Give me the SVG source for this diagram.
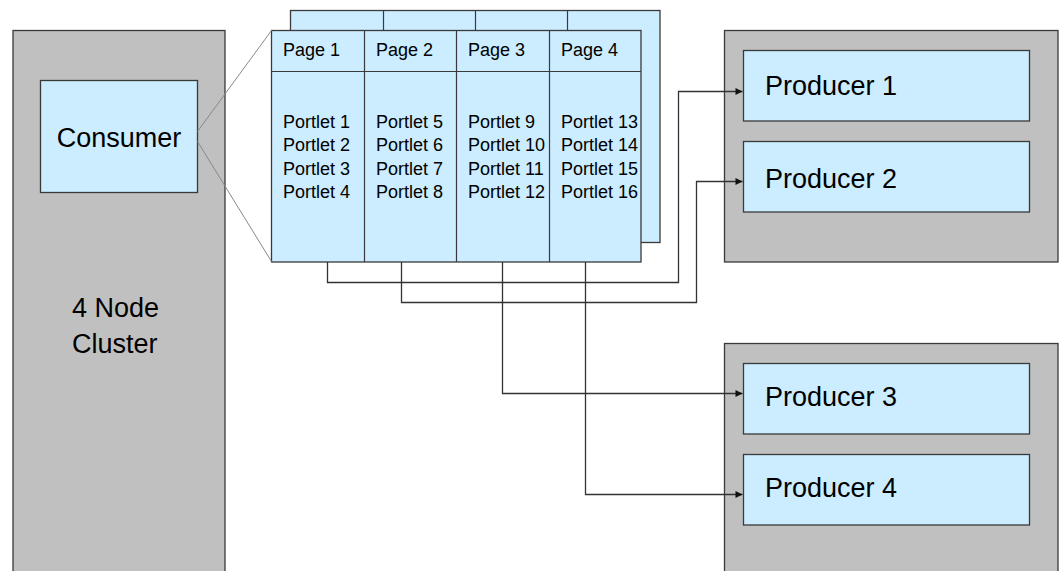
<svg xmlns="http://www.w3.org/2000/svg" width="1059" height="571" viewBox="0 0 1059 571">
  <defs>
    <marker id="arrow" viewBox="0 0 10 10" refX="10" refY="5" markerWidth="9" markerHeight="7" markerUnits="userSpaceOnUse" orient="auto">
      <path d="M0,0 L10,5 L0,10 z" fill="#111"/>
    </marker>
    <style>
      .host { fill: #c0c0c0; stroke: #3a3a3a; stroke-width: 1.3; }
      .box { fill: #ccecff; stroke: #3a3a3a; stroke-width: 1.3; }
      .div { stroke: #3a3a3a; stroke-width: 1.2; fill: none; }
      .big { font-family: "Liberation Sans", Arial, sans-serif; font-size: 27px; fill: #000; }
      .small { font-family: "Liberation Sans", Arial, sans-serif; font-size: 18px; fill: #000; }
      .link { fill: none; stroke: #333; stroke-width: 1.3; }
      .zoom { fill: none; stroke: #888; stroke-width: 1; }
    </style>
  </defs>
  <rect width="1059" height="571" fill="#ffffff"/>

  <!-- consumer cluster -->
  <g id="cluster">
    <rect class="host" x="13" y="30.5" width="212" height="560"/>
    <text class="big" x="72" y="317">4 Node</text>
    <text class="big" x="72" y="353">Cluster</text>
  </g>
  <g id="consumer">
    <rect class="box" x="40.5" y="80.5" width="157" height="112"/>
    <text class="big" x="119" y="147" text-anchor="middle">Consumer</text>
  </g>

  <!-- page stack: back sheet, then front sheet -->
  <g id="pages-back">
    <rect class="box" x="290.5" y="10.5" width="369.5" height="232"/>
    <path class="div" d="M383.5,10.5 V30.5 M475.5,10.5 V30.5 M567.5,10.5 V30.5"/>
  </g>
  <g id="pages">
    <rect class="box" x="271.5" y="30.5" width="369.5" height="231.5"/>
    <path class="div" d="M271.5,71.5 H641 M364.5,30.5 V262 M456.5,30.5 V262 M549.5,30.5 V262"/>
    <g class="small">
      <text x="283" y="56">Page 1</text>
      <text x="376" y="56">Page 2</text>
      <text x="468" y="56">Page 3</text>
      <text x="561" y="56">Page 4</text>
      <text x="283" y="127.5">Portlet 1</text>
      <text x="283" y="151">Portlet 2</text>
      <text x="283" y="174.5">Portlet 3</text>
      <text x="283" y="198">Portlet 4</text>
      <text x="376" y="127.5">Portlet 5</text>
      <text x="376" y="151">Portlet 6</text>
      <text x="376" y="174.5">Portlet 7</text>
      <text x="376" y="198">Portlet 8</text>
      <text x="468" y="127.5">Portlet 9</text>
      <text x="468" y="151">Portlet 10</text>
      <text x="468" y="174.5">Portlet 11</text>
      <text x="468" y="198">Portlet 12</text>
      <text x="561" y="127.5">Portlet 13</text>
      <text x="561" y="151">Portlet 14</text>
      <text x="561" y="174.5">Portlet 15</text>
      <text x="561" y="198">Portlet 16</text>
    </g>
  </g>

  <!-- producer hosts -->
  <g id="host-a">
    <rect class="host" x="724.5" y="30.5" width="333.5" height="231.5"/>
  </g>
  <g id="producer-1">
    <rect class="box" x="743.5" y="50.5" width="286" height="70.5"/>
    <text class="big" x="765" y="95">Producer 1</text>
  </g>
  <g id="producer-2">
    <rect class="box" x="743.5" y="141.5" width="286" height="70.5"/>
    <text class="big" x="765" y="188">Producer 2</text>
  </g>
  <g id="host-b">
    <rect class="host" x="724.5" y="343.5" width="333.5" height="260"/>
  </g>
  <g id="producer-3">
    <rect class="box" x="743.5" y="363.5" width="286" height="70.5"/>
    <text class="big" x="765" y="406">Producer 3</text>
  </g>
  <g id="producer-4">
    <rect class="box" x="743.5" y="454.5" width="286" height="70.5"/>
    <text class="big" x="765" y="497">Producer 4</text>
  </g>

  <!-- connectors -->
  <g id="connectors">
    <path class="zoom" d="M197.5,131.5 L271.5,30.5 M197.5,141.5 L271.5,261.5"/>
    <path class="link" d="M327.5,262 V282.5 H678.5 V91.5 H742.5" marker-end="url(#arrow)"/>
    <path class="link" d="M401.5,262 V302.5 H696.5 V181.5 H742.5" marker-end="url(#arrow)"/>
    <path class="link" d="M502.5,262 V393.5 H742.5" marker-end="url(#arrow)"/>
    <path class="link" d="M585.5,262 V494.5 H742.5" marker-end="url(#arrow)"/>
  </g>
</svg>
